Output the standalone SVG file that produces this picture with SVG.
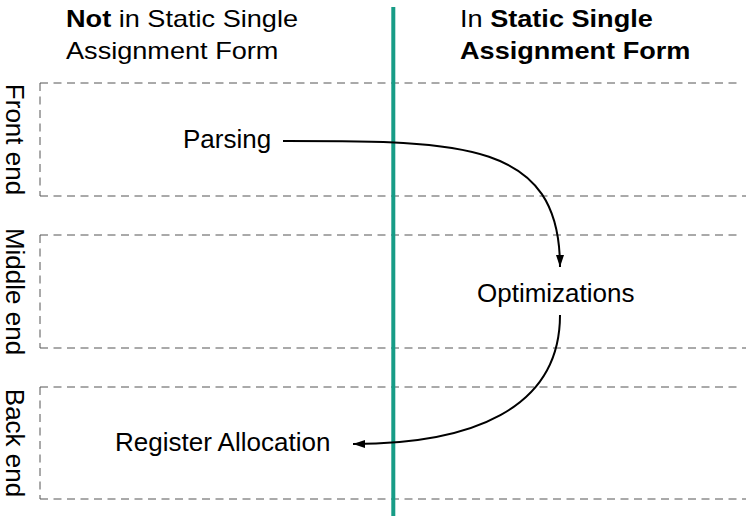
<svg xmlns="http://www.w3.org/2000/svg" width="746" height="516" viewBox="0 0 746 516">
<style>
text{font-family:"Liberation Sans",Arial,Helvetica,sans-serif;fill:#000}
.hd{font-size:24px}
.b{font-weight:bold}
.lbl{font-size:26px}
.dash{stroke:#555;stroke-width:1;stroke-dasharray:8 5.5;fill:none}
.conn{stroke:#000;stroke-width:2;fill:none}
</style>
<defs>
<marker id="ah" viewBox="0 0 12 10" refX="12" refY="5" markerWidth="12" markerHeight="10" markerUnits="userSpaceOnUse" orient="auto">
<path d="M0,1 L12,5 L0,9 Z" fill="#000"/>
</marker>
</defs>
<rect width="746" height="516" fill="#fff"/>
<g id="lanes">
<g id="lane-front">
<path class="dash" d="M40,83 H739 M40,196 H746 M40,83 V196"/>
<text class="lbl" text-anchor="middle" transform="translate(6,139.5) rotate(90)">Front end</text>
</g>
<g id="lane-middle">
<path class="dash" d="M40,235 H739 M40,348 H746 M40,235 V348"/>
<text class="lbl" text-anchor="middle" transform="translate(6,291.5) rotate(90)">Middle end</text>
</g>
<g id="lane-back">
<path class="dash" d="M40,387 H739 M40,499 H746 M40,387 V499"/>
<text class="lbl" text-anchor="middle" transform="translate(6,443) rotate(90)">Back end</text>
</g>
</g>
<g id="divider">
<line x1="393.3" y1="7" x2="393.3" y2="516" stroke="#179c86" stroke-width="4"/>
</g>
<g id="headers">
<g id="header-left" transform="translate(66,0) scale(1.13,1)">
<text class="hd" x="0" y="27"><tspan class="b">Not</tspan> in Static Single</text>
<text class="hd" x="0" y="59">Assignment Form</text>
</g>
<g id="header-right" transform="translate(460,0) scale(1.13,1)">
<text class="hd" x="0" y="27">In <tspan class="b">Static Single</tspan></text>
<text class="hd b" x="0" y="59">Assignment Form</text>
</g>
</g>
<g id="connectors">
<path class="conn" d="M283,141 C460,141 560,140 560,267" marker-end="url(#ah)"/>
<path class="conn" d="M560,315 C560,410 470,444 353,444" marker-end="url(#ah)"/>
</g>
<g id="node-parsing"><text class="lbl" x="183" y="148">Parsing</text></g>
<g id="node-optimizations"><text class="lbl" x="477" y="302">Optimizations</text></g>
<g id="node-regalloc"><text class="lbl" x="115" y="451">Register Allocation</text></g>
</svg>
